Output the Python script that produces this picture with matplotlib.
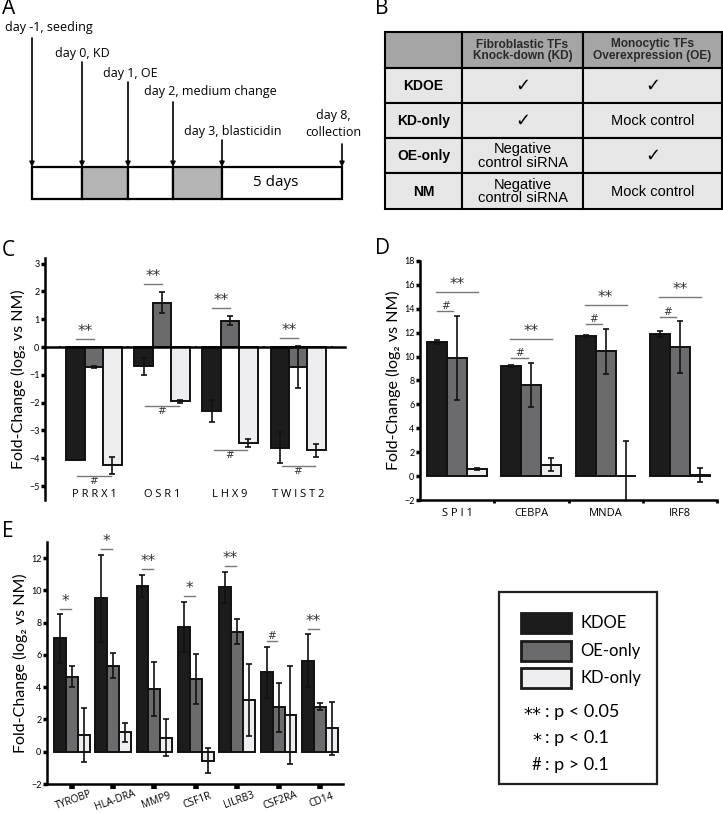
import numpy as np
import matplotlib.pyplot as plt
from matplotlib.patches import Rectangle

plt.rcParams['font.family'] = ['Lato', 'DejaVu Sans']

# ---------------- data ----------------
conditions = ['KDOE', 'OE-only', 'KD-only']
bar_colors = ['#1c1c1c', '#6b6b6d', '#eeeef0']

# panel C - fibroblastic TFs
c_genes = ['PRRX1', 'OSR1', 'LHX9', 'TWIST2']
c_kdoe = [-4.05, -0.70, -2.30, -3.62]
c_kdoe_err = [0.0, 0.30, 0.40, 0.55]
c_oe = [-0.72, 1.60, 0.95, -0.72]
c_oe_err = [0.05, 0.37, 0.15, 0.75]
c_kd = [-4.25, -1.95, -3.45, -3.72]
c_kd_err = [0.30, 0.06, 0.15, 0.25]

# panel D - monocytic TFs
d_genes = ['SPI1', 'CEBPA', 'MNDA', 'IRF8']
d_kdoe = [11.2, 9.2, 11.7, 11.9]
d_kdoe_err = [0.15, 0.10, 0.10, 0.25]
d_oe = [9.9, 7.6, 10.45, 10.8]
d_oe_err = [3.5, 1.85, 1.9, 2.15]
d_kd = [0.6, 0.95, 0.05, 0.1]
d_kd_err = [0.05, 0.55, 2.9, 0.6]

# panel E - monocytic markers
e_genes = ['TYROBP', 'HLA-DRA', 'MMP9', 'CSF1R', 'LILRB3', 'CSF2RA', 'CD14']
e_kdoe = [7.03, 9.52, 10.28, 7.76, 10.2, 4.92, 5.65]
e_kdoe_err = [1.5, 2.7, 0.7, 1.55, 0.97, 1.6, 1.63]
e_oe = [4.66, 5.34, 3.89, 4.51, 7.45, 2.75, 2.79]
e_oe_err = [0.65, 0.75, 1.7, 1.55, 0.75, 1.5, 0.22]
e_kd = [1.03, 1.2, 0.87, -0.56, 3.21, 2.28, 1.45]
e_kd_err = [1.65, 0.58, 1.15, 0.78, 2.25, 3.05, 1.65]
e_sig = ['*', '*', '**', '*', '**', '#', '**']

# panel A - protocol timeline
events = ['day -1, seeding', 'day 0, KD', 'day 1, OE', 'day 2, medium change',
          'day 3, blasticidin', 'day 8,\ncollection']
segment_fill = ['white', '#b4b4b4', 'white', '#b4b4b4', 'white']

# panel B - design table
tbl_header = ['', 'Fibroblastic TFs\nKnock-down (KD)', 'Monocytic TFs\nOverexpression (OE)']
tbl_rows = [['KDOE', '\u2713', '\u2713'],
            ['KD-only', '\u2713', 'Mock control'],
            ['OE-only', 'Negative\ncontrol siRNA', '\u2713'],
            ['NM', 'Negative\ncontrol siRNA', 'Mock control']]

ylabel = 'Fold-Change (log\u2082 vs NM)'

# ---------------- figure ----------------
fig = plt.figure(figsize=(7.23, 8.13), dpi=100)
bg = fig.add_axes([0, 0, 1, 1])
bg.set_xlim(0, 723)
bg.set_ylim(813, 0)
bg.axis('off')

for lab, (px, py) in zip('ABCDE', [(2, 9), (375, 9), (2, 250), (375, 248), (2, 531)]):
    bg.text(px, py, lab, fontsize=15, va='center', ha='left', family=['Open Sans'])

# ---- A: timeline ----
ev_x = [32, 82, 128, 173, 222, 342]
arrow_top = [38, 62, 82, 102, 140, 144]
box_top, box_bot = 167, 199
for i in range(5):
    bg.add_patch(Rectangle((ev_x[i], box_top), ev_x[i + 1] - ev_x[i], box_bot - box_top,
                           facecolor=segment_fill[i], edgecolor='k', lw=1.6))
bg.text((ev_x[4] + ev_x[5]) / 2 - 6, (box_top + box_bot) / 2, '5 days', fontsize=11,
        ha='center', va='center', family=['Open Sans'])
for x, top in zip(ev_x, arrow_top):
    bg.annotate('', xy=(x, box_top), xytext=(x, top),
                arrowprops=dict(arrowstyle='-|>', lw=1.2, color='k', mutation_scale=7,
                                shrinkA=0, shrinkB=0))
lab_pos = [(5, 28, 'left'), (55, 53, 'left'), (103, 73, 'left'), (144, 91, 'left'),
           (184, 131, 'left'), (333, 124, 'center')]
for txt, (lx, ly, ha) in zip(events, lab_pos):
    bg.text(lx, ly, txt, fontsize=9, ha=ha, va='center', family=['Open Sans'],
            linespacing=1.3)

# ---- B: table ----
col_x = [385, 462, 583, 722]
row_y = [32, 68, 103, 138, 173, 209]
all_rows = [tbl_header] + tbl_rows
for r in range(5):
    for c in range(3):
        fc = '#a5a5a5' if r == 0 else '#e6e6e6'
        bg.add_patch(Rectangle((col_x[c], row_y[r]), col_x[c + 1] - col_x[c],
                               row_y[r + 1] - row_y[r], facecolor=fc, edgecolor='k', lw=1.5))
        txt = all_rows[r][c]
        if not txt:
            continue
        bold = (r == 0) or (c == 0)
        size = 8.6 if r == 0 else (10 if c == 0 else 10.5)
        if txt == '\u2713':
            size = 13
        bg.text((col_x[c] + col_x[c + 1]) / 2, (row_y[r] + row_y[r + 1]) / 2 + 0.5, txt,
                ha='center', va='center', fontsize=size,
                fontweight='bold' if bold else 'normal',
                color='#2a2a2a' if r == 0 else 'black',
                family=['Liberation Sans', 'DejaVu Sans'], linespacing=1.0)

# ---- legend box ----
bg.add_patch(Rectangle((499, 592), 158, 192, facecolor='white', edgecolor='#222222', lw=1.6))
sw_y = [613, 641, 668]
for name, col, y in zip(conditions, bar_colors, sw_y):
    bg.add_patch(Rectangle((521, y), 50, 20, facecolor=col, edgecolor='#1a1a1a', lw=2))
    bg.text(580, y + 10, name, fontsize=12, va='center', ha='left')
for sym, txt, y in zip(['**', '*', '#'], [': p < 0.05', ': p < 0.1', ': p > 0.1'], [712, 738, 765]):
    bg.text(541, y + (3 if '*' in sym else 0), sym, fontsize=13 if '*' in sym else 12,
            va='center', ha='right', family=['DejaVu Sans'] if '*' in sym else None)
    bg.text(545, y, txt, fontsize=13, va='center', ha='left')


# ---------------- helpers ----------------
def draw_bars(ax, vals, errs, width):
    x = np.arange(len(vals[0]))
    for k in range(3):
        ax.bar(x + (k - 1) * width, vals[k], width, color=bar_colors[k],
               edgecolor='#111111', lw=1.4, zorder=2,
               yerr=errs[k], error_kw=dict(ecolor='#111111', elinewidth=1.2,
                                           capsize=2, capthick=1.2, zorder=3))
    return x


def sig(ax, x0, x1, y, s, below=False):
    ax.plot([x0, x1], [y, y], color='#777777', lw=1, zorder=4, clip_on=False)
    if below:
        ax.text((x0 + x1) / 2, y, s, ha='center', va='top', fontsize=7.5,
                color='#333333', family=['DejaVu Sans'])
    elif s == '#':
        ax.text((x0 + x1) / 2, y, s, ha='center', va='bottom', fontsize=7.5,
                color='#333333', family=['DejaVu Sans'])
    else:
        ax.text((x0 + x1) / 2, y, s, ha='center', va='bottom', fontsize=11,
                color='#333333', family=['DejaVu Sans'])


def style_axis(ax):
    for s in ['top', 'right']:
        ax.spines[s].set_visible(False)
    ax.spines['left'].set_linewidth(1.8)
    ax.spines['bottom'].set_linewidth(1.8)
    ax.tick_params(axis='y', direction='out', length=3, width=2.5, labelsize=6.5, pad=1)
    ax.set_ylabel(ylabel, fontsize=11.5, labelpad=2)


# ---- C ----
axc = fig.add_axes([45 / 723, 1 - 500 / 813, 300 / 723, 242 / 813])
wc = 0.27
xc = draw_bars(axc, [c_kdoe, c_oe, c_kd], [c_kdoe_err, c_oe_err, c_kd_err], wc)
style_axis(axc)
axc.spines['bottom'].set_position(('data', 0))
axc.set_xlim(-0.72, 3.69)
axc.set_ylim(-5.5, 3.2)
axc.set_yticks(range(-5, 4))
axc.set_xticks(np.arange(-0.5, 4, 1))
axc.set_xticklabels([])
axc.tick_params(axis='x', length=2, width=1.2, direction='inout')
for i, g in enumerate(c_genes):
    axc.text(xc[i], -5.3, ' '.join(g), ha='center', va='center', fontsize=8,
             family=['Open Sans'])
    top = max(0, c_kdoe[i] + c_kdoe_err[i], c_oe[i] + c_oe_err[i]) + 0.3
    sig(axc, xc[i] - wc, xc[i], top, '**')
    low = min(c_kdoe[i] - c_kdoe_err[i], c_oe[i] - c_oe_err[i], c_kd[i] - c_kd_err[i]) - 0.1
    sig(axc, xc[i] - wc * 0.9, xc[i] + wc * 0.9, low, '#', below=True)

# ---- D ----
axd = fig.add_axes([420 / 723, 1 - 500 / 813, 297 / 723, 239 / 813])
wd = 0.27
xd = draw_bars(axd, [d_kdoe, d_oe, d_kd], [d_kdoe_err, d_oe_err, d_kd_err], wd)
style_axis(axd)
axd.set_xlim(-0.5, 3.5)
axd.set_ylim(-2, 18)
axd.set_yticks(range(-2, 19, 2))
axd.set_xticks(np.arange(0.5, 4, 1))
axd.set_xticklabels([])
axd.tick_params(axis='x', length=2.5, width=2, direction='out')
for i, g in enumerate(d_genes):
    axd.text(xd[i], -3.1, ' '.join(g) if g == 'SPI1' else g, ha='center', va='center',
             fontsize=8, family=['Open Sans'])
    hash_y = max(d_kdoe[i] + d_kdoe_err[i], d_oe[i] + d_oe_err[i]) + 0.4
    sig(axd, xd[i] - wd, xd[i] - 0.05, hash_y, '#')
    sig(axd, xd[i] - wd * 1.05, xd[i] + wd * 1.05, hash_y + 1.6, '**')

# ---- E ----
axe = fig.add_axes([47 / 723, 1 - 784 / 813, 296 / 723, 242 / 813])
we = 0.29
xe = draw_bars(axe, [e_kdoe, e_oe, e_kd], [e_kdoe_err, e_oe_err, e_kd_err], we)
style_axis(axe)
axe.set_xlim(-0.6, 6.56)
axe.set_ylim(-2, 13)
axe.set_yticks(range(-2, 13, 2))
axe.set_xticks(xe)
axe.set_xticklabels(e_genes, rotation=20, fontsize=7.3, ha='center', va='top',
                    rotation_mode='anchor', family=['Open Sans'])
axe.tick_params(axis='x', length=3.5, width=4, direction='out', pad=4.5)
for i in range(len(e_genes)):
    top = max(e_kdoe[i] + e_kdoe_err[i], e_oe[i] + e_oe_err[i]) + 0.32
    sig(axe, xe[i] - we, xe[i] - 0.03, top, e_sig[i])

for ax in (axc, axd, axe):
    ax.yaxis.label.set_family(['Lato', 'DejaVu Sans'])

fig.savefig('out.png', dpi=100)
